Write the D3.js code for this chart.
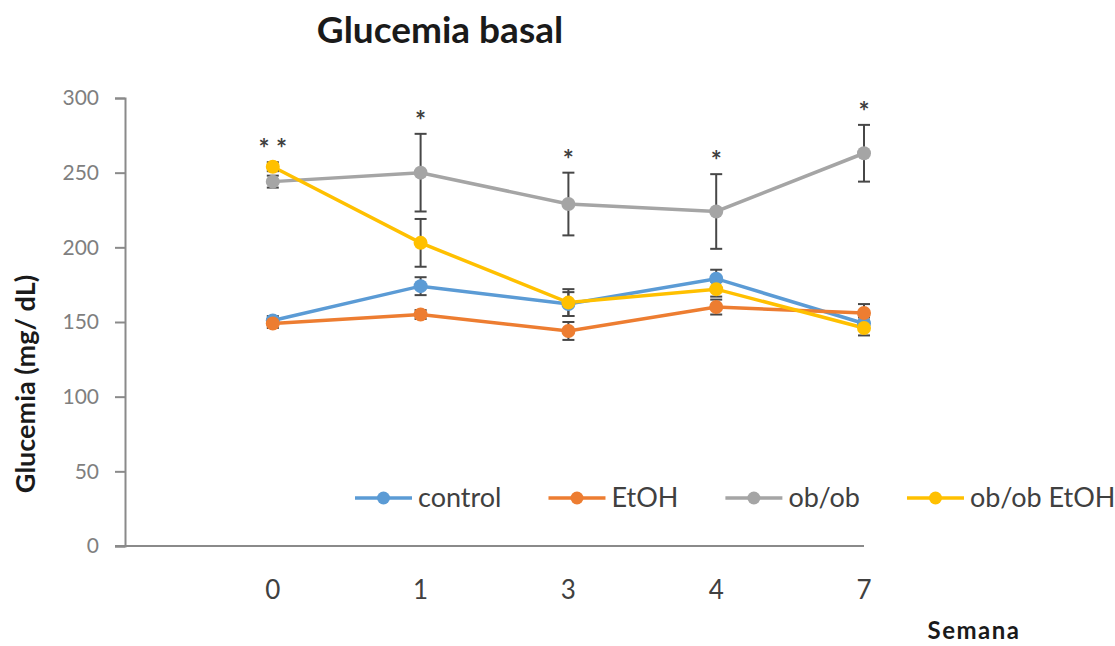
<!DOCTYPE html>
<html>
<head>
<meta charset="utf-8">
<script src="https://cdn.jsdelivr.net/npm/d3@7"></script>
<style>
  body { margin: 0; background: #fff; }
  text { font-family: Lato, "Open Sans", sans-serif; }
</style>
</head>
<body>
<div id="chart"></div>
<script>
const weeks = ["0", "1", "3", "4", "7"];
const yTicks = [0, 50, 100, 150, 200, 250, 300];

const seriesNames = ["control", "EtOH", "ob/ob", "ob/ob EtOH"];
const seriesColors = ["#5B9BD5", "#ED7D31", "#A5A5A5", "#FFC000"];

const controlValues = [151, 174, 162, 179, 149];
const controlErrors = [3, 6, 8, 6, 4];
const etohValues = [149, 155, 144, 160, 156];
const etohErrors = [3, 3, 6, 5, 6];
const obValues = [244, 250, 229, 224, 263];
const obErrors = [4, 26, 21, 25, 19];
const obEtohValues = [254, 203, 163, 172, 146];
const obEtohErrors = [3, 16, 9, 5, 5];

const stars = ["* *", "*", "*", "*", "*"];

const width = 1115;
const height = 646;

const series = seriesNames.map(function(name, i) {
    const vals = [controlValues, etohValues, obValues, obEtohValues][i];
    const errs = [controlErrors, etohErrors, obErrors, obEtohErrors][i];
    return {
        name: name,
        color: seriesColors[i],
        points: vals.map(function(v, j) { return { i: j, v: v, e: errs[j] }; })
    };
});

const svg = d3.select("#chart").append("svg")
    .attr("width", width)
    .attr("height", height);

// category index -1..4 so the first week sits one step in from the axis
const x = d3.scaleLinear().domain([-1, weeks.length - 1]).range([125, 864]);
const y = d3.scaleLinear().domain([0, 300]).range([546, 98]);

// title
svg.append("text")
    .attr("x", 440).attr("y", 43)
    .attr("text-anchor", "middle")
    .attr("font-size", 37).attr("font-weight", "bold")
    .attr("fill", "#1a1a1a")
    .text("Glucemia basal");

// y axis
const yAxis = svg.append("g")
    .attr("transform", "translate(125,0)")
    .call(d3.axisLeft(y).tickValues(yTicks).tickSize(10).tickPadding(16));
yAxis.select(".domain").attr("stroke", "#8a8a8a").attr("stroke-width", 2);
yAxis.selectAll(".tick line").attr("stroke", "#8a8a8a").attr("stroke-width", 2);
yAxis.selectAll(".tick text")
    .attr("font-size", 21).attr("fill", "#7f7f7f")
    .style("font-family", "Lato, sans-serif");

// x axis line
svg.append("line")
    .attr("x1", 115).attr("x2", x.range()[1])
    .attr("y1", y(0)).attr("y2", y(0))
    .attr("stroke", "#8a8a8a").attr("stroke-width", 2);

svg.append("g").selectAll("text")
    .data(weeks)
    .enter().append("text")
    .attr("x", function(d, i) { return x(i); })
    .attr("y", 599)
    .attr("text-anchor", "middle")
    .attr("font-size", 26).attr("fill", "#404040")
    .text(function(d) { return d; });

// axis titles
svg.append("text")
    .attr("transform", "translate(35,384) rotate(-90)")
    .attr("text-anchor", "middle")
    .attr("font-size", 27).attr("font-weight", "bold")
    .attr("fill", "#1a1a1a")
    .text("Glucemia (mg/ dL)");

svg.append("text")
    .attr("x", 974).attr("y", 639)
    .attr("text-anchor", "middle")
    .attr("font-size", 24).attr("font-weight", "bold")
    .attr("letter-spacing", 1.5)
    .attr("fill", "#1a1a1a")
    .text("Semana");

// lines
const line = d3.line()
    .x(function(d) { return x(d.i); })
    .y(function(d) { return y(d.v); });

svg.append("g").selectAll("path")
    .data(series)
    .enter().append("path")
    .attr("d", function(d) { return line(d.points); })
    .attr("fill", "none")
    .attr("stroke", function(d) { return d.color; })
    .attr("stroke-width", 3.5);

// error bars
const errs = svg.append("g").attr("stroke", "#474747").attr("stroke-width", 2);
series.forEach(function(s) {
    s.points.forEach(function(p) {
        const cx = x(p.i);
        errs.append("line")
            .attr("x1", cx).attr("x2", cx)
            .attr("y1", y(p.v + p.e)).attr("y2", y(p.v - p.e));
        errs.append("line")
            .attr("x1", cx - 6).attr("x2", cx + 6)
            .attr("y1", y(p.v + p.e)).attr("y2", y(p.v + p.e));
        errs.append("line")
            .attr("x1", cx - 6).attr("x2", cx + 6)
            .attr("y1", y(p.v - p.e)).attr("y2", y(p.v - p.e));
    });
});

// markers
series.forEach(function(s) {
    svg.append("g").selectAll("circle")
        .data(s.points)
        .enter().append("circle")
        .attr("cx", function(d) { return x(d.i); })
        .attr("cy", function(d) { return y(d.v); })
        .attr("r", 7)
        .attr("fill", s.color);
});

// significance marks above the highest bar of each week
svg.append("g").selectAll("text")
    .data(stars)
    .enter().append("text")
    .attr("x", function(d, i) { return x(i); })
    .attr("y", function(d, i) {
        const top = d3.max(series, function(s) { return s.points[i].v + s.points[i].e; });
        return y(top) - 4;
    })
    .attr("text-anchor", "middle")
    .attr("font-size", 26).attr("font-weight", "bold")
    .attr("fill", "#404040")
    .text(function(d) { return d; });

// legend
const legend = svg.append("g").attr("transform", "translate(355,498)");
let lx = 0;
series.forEach(function(s) {
    const g = legend.append("g").attr("transform", "translate(" + lx + ",0)");
    g.append("line")
        .attr("x1", 0).attr("x2", 57)
        .attr("stroke", s.color).attr("stroke-width", 3.5);
    g.append("circle").attr("cx", 28.5).attr("r", 6.5).attr("fill", s.color);
    const t = g.append("text")
        .attr("x", 63).attr("y", 9)
        .attr("font-size", 27).attr("fill", "#404040")
        .text(s.name);
    lx += 63 + t.node().getComputedTextLength() + 47;
});
</script>
</body>
</html>
